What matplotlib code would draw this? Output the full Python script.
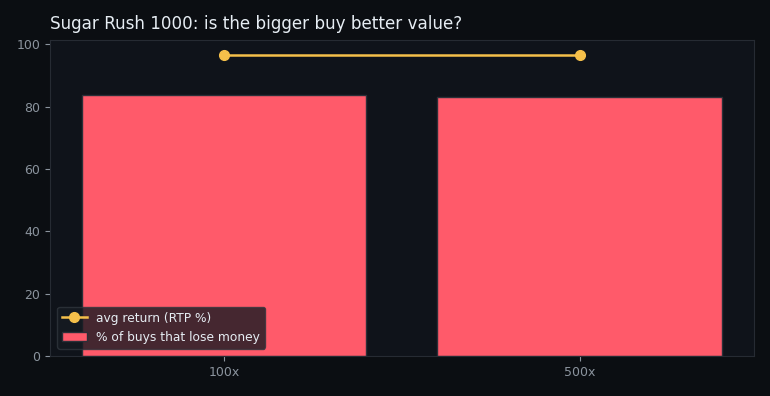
import matplotlib
matplotlib.use("Agg")
import matplotlib.pyplot as plt

# datos
compras = ["100x", "500x"]
pct_pierde = [83.6, 83.0]
rtp = [96.5, 96.5]

fondo = "#0b0e12"
panel = "#0f131a"
texto = "#e6edf3"
gris = "#8b949e"

fig, ax = plt.subplots(figsize=(7.7, 3.96), dpi=100)
fig.patch.set_facecolor(fondo)
ax.set_facecolor(panel)

ax.bar(compras, pct_pierde, width=0.8, color="#ff5a6a", edgecolor="#2b2f38",
       linewidth=1, label="% of buys that lose money", zorder=2)
ax.plot(compras, rtp, color="#f5c04a", marker="o", markersize=7, linewidth=1.8,
        label="avg return (RTP %)", zorder=3)

ax.set_ylim(0, max(rtp) * 1.05)
ax.set_title("Sugar Rush 1000: is the bigger buy better value?", loc="left",
             color=texto, fontsize=12.1, pad=8)
ax.tick_params(colors=gris, labelsize=9)
for s in ax.spines.values():
    s.set_color("#262b33")

leg = ax.legend(loc="lower left", fontsize=8.8, facecolor="#161b22",
                edgecolor="#30363d", framealpha=0.8, borderaxespad=0.6)
for t in leg.get_texts():
    t.set_color(texto)

fig.subplots_adjust(left=0.065, right=0.979, top=0.899, bottom=0.101)
fig.savefig("out.png", dpi=100, facecolor=fondo)
